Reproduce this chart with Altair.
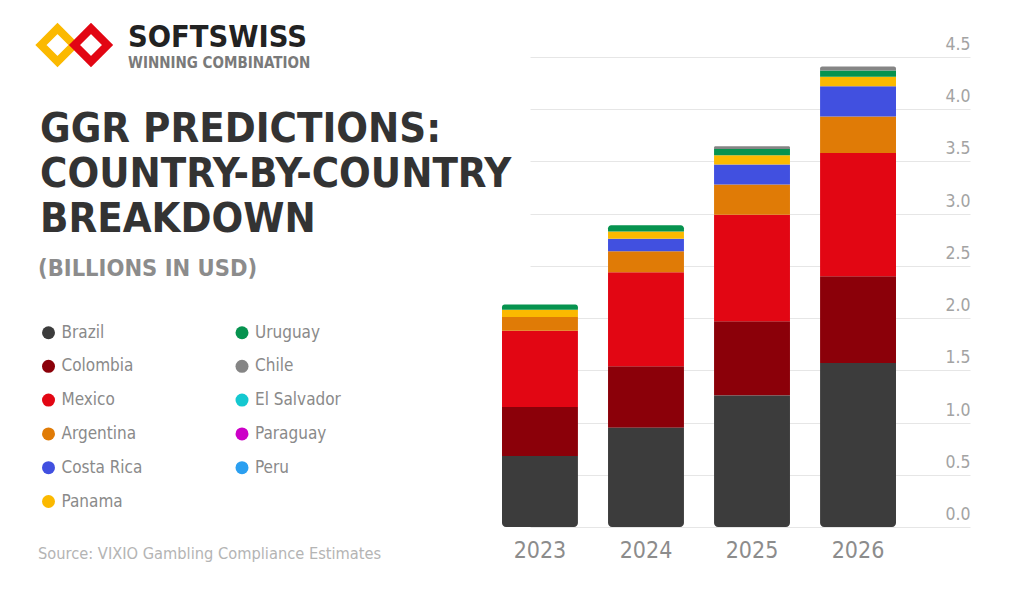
import altair as alt
import pandas as pd

# ---------------- data ----------------
years = ["2023", "2024", "2025", "2026"]
countries = ["Brazil", "Colombia", "Mexico", "Argentina", "Costa Rica", "Panama",
             "Uruguay", "Chile", "El Salvador", "Paraguay", "Peru"]
colors = ["#3c3c3c", "#8b0009", "#e20613", "#e07b06", "#4150e0", "#fbb900",
          "#06934f", "#858585", "#14c8d0", "#cc00c7", "#2b9ff0"]

brazil = [0.68, 0.95, 1.26, 1.57]
colombia = [0.47, 0.59, 0.71, 0.83]
mexico = [0.73, 0.90, 1.02, 1.18]
argentina = [0.13, 0.20, 0.29, 0.35]
costa_rica = [0.00, 0.12, 0.19, 0.29]
panama = [0.07, 0.07, 0.09, 0.09]
uruguay = [0.05, 0.06, 0.06, 0.06]
chile = [0.00, 0.00, 0.025, 0.04]
el_salvador = [0.0, 0.0, 0.0, 0.0]
paraguay = [0.0, 0.0, 0.0, 0.0]
peru = [0.0, 0.0, 0.0, 0.0]
series = [brazil, colombia, mexico, argentina, costa_rica, panama,
          uruguay, chile, el_salvador, paraguay, peru]

y_ticks = [0.0, 0.5, 1.0, 1.5, 2.0, 2.5, 3.0, 3.5, 4.0, 4.5]

title_lines = ["GGR PREDICTIONS:", "COUNTRY-BY-COUNTRY", "BREAKDOWN"]
subtitle = "(BILLIONS IN USD)"
source = "Source: VIXIO Gambling Compliance Estimates"
brand = "SOFTSWISS"
tagline = "WINNING COMBINATION"

rows = []
for ci, (c, vals) in enumerate(zip(countries, series)):
    for yr, v in zip(years, vals):
        rows.append({"year": yr, "country": c, "value": v, "order": ci})
df = pd.DataFrame(rows)

FONT = "DejaVu Sans Condensed, DejaVu Sans, sans-serif"

# ---------------- bars ----------------
base = (
    alt.Chart(df)
    .transform_filter("datum.value > 0")
    .transform_stack(stack="value", groupby=["year"], as_=["y0", "y1"],
                     sort=[alt.SortField("order", order="ascending")])
    .transform_joinaggregate(total="max(y1)", groupby=["year"])
)

enc = dict(
    x=alt.X("year:N", sort=years,
            scale=alt.Scale(range=[0, 440], paddingInner=0.284, paddingOuter=0.217),
            axis=alt.Axis(title=None, labelAngle=0, labelFont=FONT, labelFontSize=23,
                          labelColor="#8c8c8c", ticks=False, tickSize=0, domain=False,
                          labelPadding=30, labelBaseline="alphabetic", grid=False)),
    y=alt.Y("y0:Q", scale=alt.Scale(domain=[0, 4.5], nice=False),
            axis=alt.Axis(title=None, orient="right", values=y_ticks, format=".1f",
                          grid=True, gridColor="#e6e6e6", gridWidth=1,
                          ticks=False, tickSize=0, domain=False, labelAlign="right",
                          labelPadding=0, labelBaseline="alphabetic", labelOffset=-7.5,
                          labelFont=FONT, labelFontSize=17.5, labelColor="#a3a3a3")),
    y2=alt.Y2("y1:Q"),
    color=alt.Color("country:N",
                    scale=alt.Scale(domain=countries, range=colors),
                    legend=alt.Legend(title=None, orient="none", legendX=-439, legendY=267,
                                      columns=2, symbolType="circle", symbolSize=169,
                                      symbolStrokeWidth=0, labelFont=FONT, labelFontSize=17,
                                      labelColor="#8a8a8a", labelOffset=4.5, rowPadding=15.8,
                                      columnPadding=90.5, padding=0)),
)

mid = base.transform_filter("datum.country != 'Brazil' && datum.y1 < datum.total").mark_bar().encode(**enc)
bottom = base.transform_filter("datum.country == 'Brazil'").mark_bar(
    cornerRadiusBottomLeft=4, cornerRadiusBottomRight=4).encode(**enc)
top = base.transform_filter("datum.y1 == datum.total").mark_bar(
    cornerRadiusTopLeft=4, cornerRadiusTopRight=4).encode(**enc)

# ---------------- texts ----------------
one = pd.DataFrame({"k": [0]})

def label(text, x, y, size, color, weight="normal", **kw):
    return alt.Chart(one).mark_text(text=text, font=FONT, fontSize=size, fontWeight=weight,
                                    color=color, align="left", baseline="alphabetic", **kw
                                    ).encode(x=alt.value(x), y=alt.value(y))

title = label(title_lines, -439, 85, 41.5, "#333333", "bold", lineHeight=44.8)
sub = label(subtitle, -441, 218.7, 23.5, "#8c8c8c", "bold")
src = label(source, -441, 502, 16.3, "#b4b4b4")
brand_t = label(brand, -351, -10.5, 30.5, "#222222", "bold")
tag_t = label(tagline, -351, 11, 15, "#7a7a7a", "bold")

logo_y = alt.Chart(one).mark_point(shape="diamond", filled=False, strokeWidth=8, size=1089,
                                   color="#fbb900", opacity=1).encode(x=alt.value(-421.5), y=alt.value(-12))
logo_r = alt.Chart(one).mark_point(shape="diamond", filled=False, strokeWidth=8, size=1089,
                                   color="#e20613", opacity=1).encode(x=alt.value(-388), y=alt.value(-12))

chart = (
    alt.layer(mid, bottom, top, title, sub, src, brand_t, tag_t, logo_y, logo_r)
    .properties(width=491, height=470,
                padding={"left": 471, "top": 49, "right": 20, "bottom": 50},
                autosize=alt.AutoSizeParams(type="none"),
                background="white")
    .configure_view(strokeWidth=0)
)

chart.save("out.html", embed_options={"renderer": "svg", "actions": False})
